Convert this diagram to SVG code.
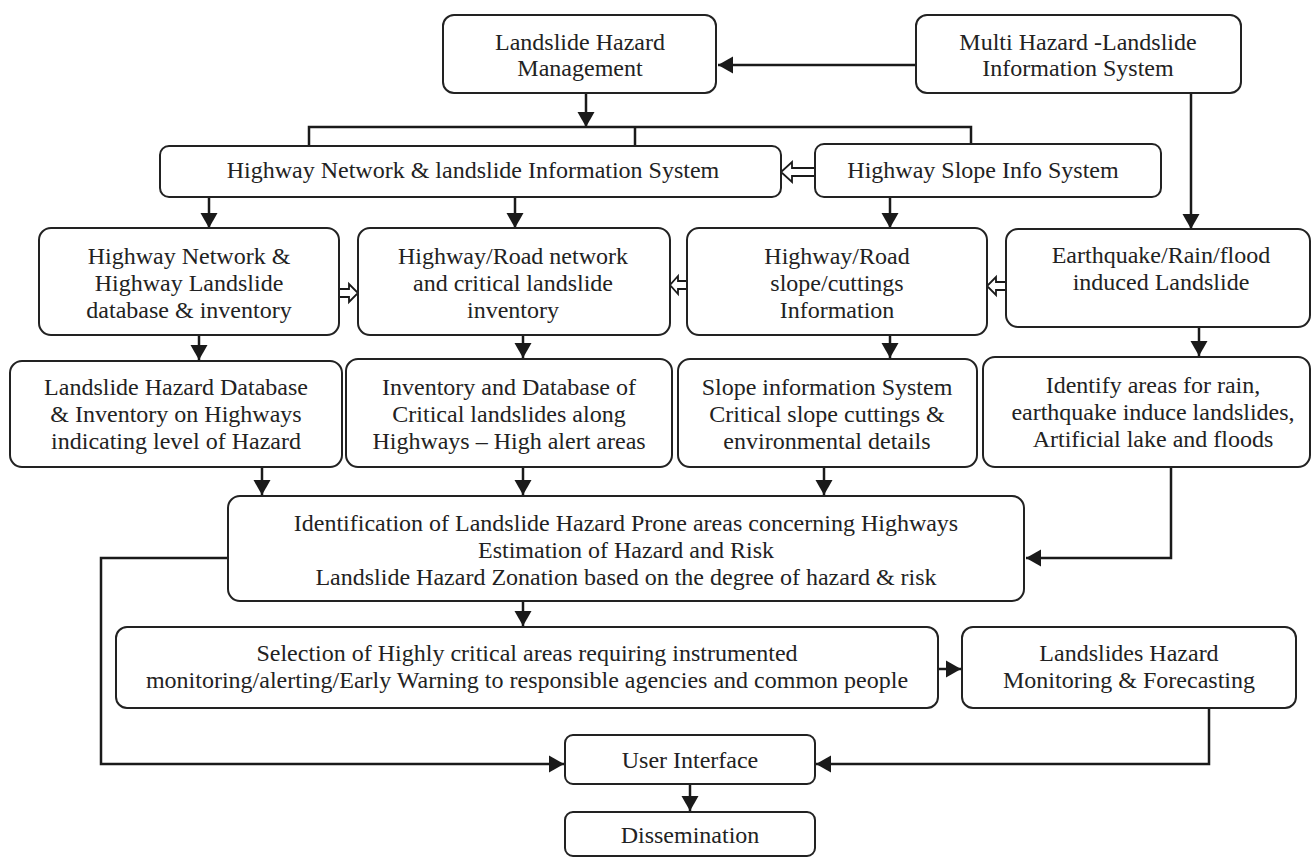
<svg xmlns="http://www.w3.org/2000/svg" width="1312" height="858" viewBox="0 0 1312 858">
<defs>
<style>
.box{fill:#fff;stroke:#222;stroke-width:2}
.t{font-family:"Liberation Serif",serif;font-size:24px;fill:#222;text-anchor:middle}
.c{fill:none;stroke:#1a1a1a;stroke-width:2.5}
.a{marker-end:url(#ah)}
.h{fill:#fff;stroke:#1a1a1a;stroke-width:1.8;stroke-linejoin:miter}
</style>
<marker id="ah" markerUnits="userSpaceOnUse" markerWidth="16" markerHeight="18" refX="15" refY="8.5" orient="auto" viewBox="0 0 16 17">
<path d="M0,0 L15,8.5 L0,17 z" fill="#1a1a1a"/>
</marker>
</defs>
<rect width="1312" height="858" fill="#fff"/>

<g id="connectors">
<path class="c a" d="M916,65 H718"/>
<path class="c a" d="M586,93 V127"/>
<path class="c" d="M309,146 V127 H971 V144 M635,127 V146"/>
<path class="c a" d="M1191,93 V229"/>
<path class="c a" d="M209,197 V228"/>
<path class="c a" d="M515,197 V228"/>
<path class="c a" d="M890,197 V228"/>
<path class="c a" d="M199,335 V360"/>
<path class="c a" d="M523,335 V358"/>
<path class="c a" d="M890,335 V358"/>
<path class="c a" d="M1199,327 V356"/>
<path class="c a" d="M262,467 V495"/>
<path class="c a" d="M523,467 V495"/>
<path class="c a" d="M824,467 V495"/>
<path class="c a" d="M1171,467 V558 H1026"/>
<path class="c a" d="M228,558 H101 V764 H564"/>
<path class="c a" d="M523,601 V626"/>
<path class="c a" d="M938,669 H961"/>
<path class="c a" d="M1209,708 V764 H816"/>
<path class="c a" d="M690,784 V811"/>
<polygon class="h" points="815,168 792,168 792,162 781,172 792,182 792,176 815,176"/>
<polygon class="h" points="339,289 349,289 349,284 358,293 349,302 349,297 339,297"/>
<polygon class="h" points="687,281 678,281 678,276 670,285 678,294 678,289 687,289"/>
<polygon class="h" points="1006,282 996,282 996,277 987,286 996,295 996,290 1006,290"/>
</g>

<g id="n1"><rect class="box" x="443" y="15" width="273" height="78" rx="11"/>
<text class="t" x="580" y="50">Landslide Hazard</text><text class="t" x="580" y="76">Management</text></g>

<g id="n2"><rect class="box" x="916" y="15" width="325" height="78" rx="11"/>
<text class="t" x="1078" y="50">Multi Hazard -Landslide</text><text class="t" x="1078" y="76">Information System</text></g>

<g id="n3"><rect class="box" x="160" y="146" width="621" height="51" rx="9"/>
<text class="t" x="473" y="178">Highway Network &amp; landslide Information System</text></g>

<g id="n4"><rect class="box" x="815" y="144" width="346" height="53" rx="9"/>
<text class="t" x="983" y="178">Highway Slope Info System</text></g>

<g id="n5"><rect class="box" x="39" y="228" width="300" height="107" rx="12"/>
<text class="t" x="189" y="264">Highway Network &amp;</text><text class="t" x="189" y="291">Highway Landslide</text><text class="t" x="189" y="318">database &amp; inventory</text></g>

<g id="n6"><rect class="box" x="358" y="228" width="312" height="107" rx="12"/>
<text class="t" x="513" y="264">Highway/Road network</text><text class="t" x="513" y="291">and critical landslide</text><text class="t" x="513" y="318">inventory</text></g>

<g id="n7"><rect class="box" x="687" y="228" width="300" height="107" rx="12"/>
<text class="t" x="837" y="264">Highway/Road</text><text class="t" x="837" y="291">slope/cuttings</text><text class="t" x="837" y="318">Information</text></g>

<g id="n8"><rect class="box" x="1006" y="229" width="304" height="98" rx="12"/>
<text class="t" x="1161" y="263">Earthquake/Rain/flood</text><text class="t" x="1161" y="290">induced Landslide</text></g>

<g id="n9"><rect class="box" x="10" y="361" width="332" height="106" rx="12"/>
<text class="t" x="176" y="395">Landslide Hazard Database</text><text class="t" x="176" y="422">&amp; Inventory on Highways</text><text class="t" x="176" y="449">indicating level of Hazard</text></g>

<g id="n10"><rect class="box" x="346" y="359" width="326" height="108" rx="12"/>
<text class="t" x="509" y="395">Inventory and Database of</text><text class="t" x="509" y="422">Critical landslides along</text><text class="t" x="509" y="449">Highways – High alert areas</text></g>

<g id="n11"><rect class="box" x="678" y="359" width="299" height="108" rx="12"/>
<text class="t" x="827" y="395">Slope information System</text><text class="t" x="827" y="422">Critical slope cuttings &amp;</text><text class="t" x="827" y="449">environmental details</text></g>

<g id="n12"><rect class="box" x="983" y="357" width="327" height="110" rx="12"/>
<text class="t" x="1153" y="393">Identify areas for rain,</text><text class="t" x="1153" y="420">earthquake induce landslides,</text><text class="t" x="1153" y="447">Artificial lake and floods</text></g>

<g id="n13"><rect class="box" x="228" y="496" width="796" height="105" rx="12"/>
<text class="t" x="626" y="531">Identification of Landslide Hazard Prone areas concerning Highways</text><text class="t" x="626" y="558">Estimation of Hazard and Risk</text><text class="t" x="626" y="585">Landslide Hazard Zonation based on the degree of hazard &amp; risk</text></g>

<g id="n14"><rect class="box" x="116" y="627" width="822" height="81" rx="11"/>
<text class="t" x="527" y="661">Selection of Highly critical areas requiring instrumented</text><text class="t" x="527" y="688">monitoring/alerting/Early Warning to responsible agencies and common people</text></g>

<g id="n15"><rect class="box" x="962" y="627" width="334" height="81" rx="11"/>
<text class="t" x="1129" y="661">Landslides Hazard</text><text class="t" x="1129" y="688">Monitoring &amp; Forecasting</text></g>

<g id="n16"><rect class="box" x="565" y="735" width="250" height="49" rx="8"/>
<text class="t" x="690" y="768">User Interface</text></g>

<g id="n17"><rect class="box" x="565" y="812" width="250" height="44" rx="8"/>
<text class="t" x="690" y="843">Dissemination</text></g>
</svg>
